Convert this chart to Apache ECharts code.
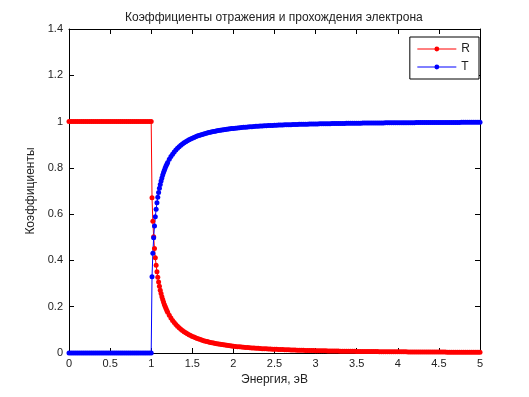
<!DOCTYPE html>
<html lang="ru">
<head>
    <meta charset="UTF-8">
    <title>R, T</title>
    <script src="https://cdn.jsdelivr.net/npm/echarts@6/dist/echarts.min.js"></script>
    <style>
        *{
            margin: 0;
            padding: 0;
        }
        #box{
            width: 529px;
            height: 397px;
            background: #fff;
        }
    </style>
</head>
<body>
<div id="box"></div>
<script type="text/javascript">
    // энергия, эВ
    let energy = [
        0,0.025,0.05,0.075,0.1,0.125,0.15,0.175,0.2,0.225,0.25,0.275,0.3,0.325,0.35,0.375,0.4,0.425,0.45,0.475,
        0.5,0.525,0.55,0.575,0.6,0.625,0.65,0.675,0.7,0.725,0.75,0.775,0.8,0.825,0.85,0.875,0.9,0.925,0.95,0.975,1,
        1.01,1.02,1.03,1.04,1.05,1.06,1.07,1.08,1.09,1.1,1.11,1.12,1.13,1.14,1.15,1.16,1.17,1.18,1.19,1.2,
        1.22,1.24,1.26,1.28,1.3,1.32,1.34,1.36,1.38,1.4,1.42,1.44,1.46,1.48,1.5,1.52,1.54,1.56,1.58,1.6,
        1.62,1.64,1.66,1.68,1.7,1.72,1.74,1.76,1.78,1.8,1.82,1.84,1.86,1.88,1.9,1.92,1.94,1.96,1.98,2,
        2.025,2.05,2.075,2.1,2.125,2.15,2.175,2.2,2.225,2.25,2.275,2.3,2.325,2.35,2.375,2.4,2.425,2.45,2.475,2.5,
        2.525,2.55,2.575,2.6,2.625,2.65,2.675,2.7,2.725,2.75,2.775,2.8,2.825,2.85,2.875,2.9,2.925,2.95,2.975,3,
        3.025,3.05,3.075,3.1,3.125,3.15,3.175,3.2,3.225,3.25,3.275,3.3,3.325,3.35,3.375,3.4,3.425,3.45,3.475,3.5,
        3.525,3.55,3.575,3.6,3.625,3.65,3.675,3.7,3.725,3.75,3.775,3.8,3.825,3.85,3.875,3.9,3.925,3.95,3.975,4,
        4.025,4.05,4.075,4.1,4.125,4.15,4.175,4.2,4.225,4.25,4.275,4.3,4.325,4.35,4.375,4.4,4.425,4.45,4.475,4.5,
        4.525,4.55,4.575,4.6,4.625,4.65,4.675,4.7,4.725,4.75,4.775,4.8,4.825,4.85,4.875,4.9,4.925,4.95,4.975,5
    ];
    // коэффициент отражения R
    let refl = [
        1,1,1,1,1,1,1,1,1,1,1,1,1,1,1,1,1,1,1,1,
        1,1,1,1,1,1,1,1,1,1,1,1,1,1,1,1,1,1,1,1,1,
        0.6708,0.5690,0.5019,0.4517,0.4118,0.3790,0.3512,0.3273,0.3065,0.2880,0.2716,0.2568,0.2435,0.2314,0.2203,0.2101,0.2007,0.1921,0.1840,0.1766,
        0.1631,0.1513,0.1408,0.1315,0.1232,0.1157,0.1089,0.1028,0.0972,0.0920,0.0873,0.0830,0.0789,0.0752,0.0718,0.0686,0.0656,0.0628,0.0602,0.0578,
        0.0555,0.0534,0.0513,0.0494,0.0476,0.0459,0.0443,0.0428,0.0414,0.0400,0.0387,0.0375,0.0363,0.0352,0.0341,0.0331,0.0321,0.0312,0.0303,0.0294,
        0.0284,0.0274,0.0265,0.0256,0.0248,0.0240,0.0233,0.0226,0.0219,0.0213,0.0206,0.0201,0.0195,0.0189,0.0184,0.0179,0.0175,0.0170,0.0166,0.0161,
        0.0157,0.0153,0.0150,0.0146,0.0142,0.0139,0.0136,0.0133,0.0130,0.0127,0.0124,0.0121,0.0118,0.0116,0.0113,0.0111,0.0109,0.0106,0.0104,0.0102,
        0.0100,0.0098,0.0096,0.0094,0.0092,0.0091,0.0089,0.0087,0.0086,0.0084,0.0083,0.0081,0.0080,0.0078,0.0077,0.0075,0.0074,0.0073,0.0072,0.0070,
        0.0069,0.0068,0.0067,0.0066,0.0065,0.0064,0.0063,0.0062,0.0061,0.0060,0.0059,0.0058,0.0057,0.0056,0.0055,0.0055,0.0054,0.0053,0.0052,0.0052,
        0.0051,0.0050,0.0049,0.0049,0.0048,0.0047,0.0047,0.0046,0.0045,0.0045,0.0044,0.0044,0.0043,0.0043,0.0042,0.0041,0.0041,0.0040,0.0040,0.0039,
        0.0039,0.0038,0.0038,0.0037,0.0037,0.0037,0.0036,0.0036,0.0035,0.0035,0.0034,0.0034,0.0034,0.0033,0.0033,0.0032,0.0032,0.0032,0.0031,0.0031
    ];
    // коэффициент прохождения T
    let trans = [
        0,0,0,0,0,0,0,0,0,0,0,0,0,0,0,0,0,0,0,0,
        0,0,0,0,0,0,0,0,0,0,0,0,0,0,0,0,0,0,0,0,0,
        0.3292,0.4310,0.4981,0.5483,0.5882,0.6210,0.6488,0.6727,0.6935,0.7120,0.7284,0.7432,0.7565,0.7686,0.7797,0.7899,0.7993,0.8079,0.8160,0.8234,
        0.8369,0.8487,0.8592,0.8685,0.8768,0.8843,0.8911,0.8972,0.9028,0.9080,0.9127,0.9170,0.9211,0.9248,0.9282,0.9314,0.9344,0.9372,0.9398,0.9422,
        0.9445,0.9466,0.9487,0.9506,0.9524,0.9541,0.9557,0.9572,0.9586,0.9600,0.9613,0.9625,0.9637,0.9648,0.9659,0.9669,0.9679,0.9688,0.9697,0.9706,
        0.9716,0.9726,0.9735,0.9744,0.9752,0.9760,0.9767,0.9774,0.9781,0.9787,0.9794,0.9799,0.9805,0.9811,0.9816,0.9821,0.9825,0.9830,0.9834,0.9839,
        0.9843,0.9847,0.9850,0.9854,0.9858,0.9861,0.9864,0.9867,0.9870,0.9873,0.9876,0.9879,0.9882,0.9884,0.9887,0.9889,0.9891,0.9894,0.9896,0.9898,
        0.9900,0.9902,0.9904,0.9906,0.9908,0.9909,0.9911,0.9913,0.9914,0.9916,0.9917,0.9919,0.9920,0.9922,0.9923,0.9925,0.9926,0.9927,0.9928,0.9930,
        0.9931,0.9932,0.9933,0.9934,0.9935,0.9936,0.9937,0.9938,0.9939,0.9940,0.9941,0.9942,0.9943,0.9944,0.9945,0.9945,0.9946,0.9947,0.9948,0.9948,
        0.9949,0.9950,0.9951,0.9951,0.9952,0.9953,0.9953,0.9954,0.9955,0.9955,0.9956,0.9956,0.9957,0.9957,0.9958,0.9959,0.9959,0.9960,0.9960,0.9961,
        0.9961,0.9962,0.9962,0.9963,0.9963,0.9963,0.9964,0.9964,0.9965,0.9965,0.9966,0.9966,0.9966,0.9967,0.9967,0.9968,0.9968,0.9968,0.9969,0.9969
    ];
    let names = ['R', 'T'];

    let font = '"Liberation Sans", Arial, sans-serif';
    let pairs = (ys) => energy.map((x, i) => [x, ys[i]]);

    // рамка: оси со всех четырёх сторон, засечки внутрь
    let frame = () => ({
        axisLine: {show: true, onZero: false, lineStyle: {color: '#000', width: 1}},
        axisTick: {show: true, inside: true, length: 5, lineStyle: {color: '#000'}},
        splitLine: {show: false}
    });

    let myChart = echarts.init(document.getElementById('box'), null, {renderer: 'canvas'});
    let option = {
        animation: false,
        backgroundColor: '#fff',
        textStyle: {fontFamily: font},
        title: {
            text: 'Коэффициенты отражения и прохождения электрона',
            left: 120,
            top: 7,
            textStyle: {fontSize: 12, fontWeight: 'normal', color: '#222', fontFamily: font}
        },
        legend: {
            data: names,
            orient: 'vertical',
            right: 50,
            top: 37,
            backgroundColor: '#fff',
            borderColor: '#000',
            borderWidth: 1,
            borderRadius: 0,
            padding: [5, 9, 5, 7],
            itemWidth: 39,
            itemHeight: 6,
            itemGap: 4,
            lineStyle: {width: 1},
            textStyle: {fontSize: 12, color: '#222', fontFamily: font, lineHeight: 14}
        },
        grid: {left: 69, right: 49, top: 29, bottom: 44, containLabel: false},
        xAxis: [
            Object.assign({
                type: 'value', min: 0, max: 5, interval: 0.5, position: 'bottom',
                name: 'Энергия, эВ', nameLocation: 'middle', nameGap: 19,
                nameTextStyle: {fontSize: 12, color: '#222', fontFamily: font},
                axisLabel: {fontSize: 11, color: '#222', margin: 5, fontFamily: font}
            }, frame()),
            Object.assign({
                type: 'value', min: 0, max: 5, interval: 0.5, position: 'top',
                axisLabel: {show: false}
            }, frame())
        ],
        yAxis: [
            Object.assign({
                type: 'value', min: 0, max: 1.4, interval: 0.2, position: 'left',
                name: 'Коэффициенты', nameLocation: 'middle', nameGap: 28,
                nameTextStyle: {fontSize: 12, color: '#222', fontFamily: font},
                axisLabel: {fontSize: 11, color: '#222', margin: 6, fontFamily: font}
            }, frame()),
            Object.assign({
                type: 'value', min: 0, max: 1.4, interval: 0.2, position: 'right',
                axisLabel: {show: false}
            }, frame())
        ],
        series: [
            {
                name: 'R',
                type: 'line',
                data: pairs(refl),
                symbol: 'circle',
                symbolSize: 5,
                showSymbol: true,
                showAllSymbol: true,
                color: '#ff0000',
                lineStyle: {width: 1, color: '#ff0000'},
                itemStyle: {color: '#ff0000'},
                emphasis: {disabled: true}
            },
            {
                name: 'T',
                type: 'line',
                data: pairs(trans),
                symbol: 'circle',
                symbolSize: 5,
                showSymbol: true,
                showAllSymbol: true,
                color: '#0000ff',
                lineStyle: {width: 1, color: '#0000ff'},
                itemStyle: {color: '#0000ff'},
                emphasis: {disabled: true}
            }
        ]
    };
    myChart.setOption(option);
</script>
</body>
</html>
